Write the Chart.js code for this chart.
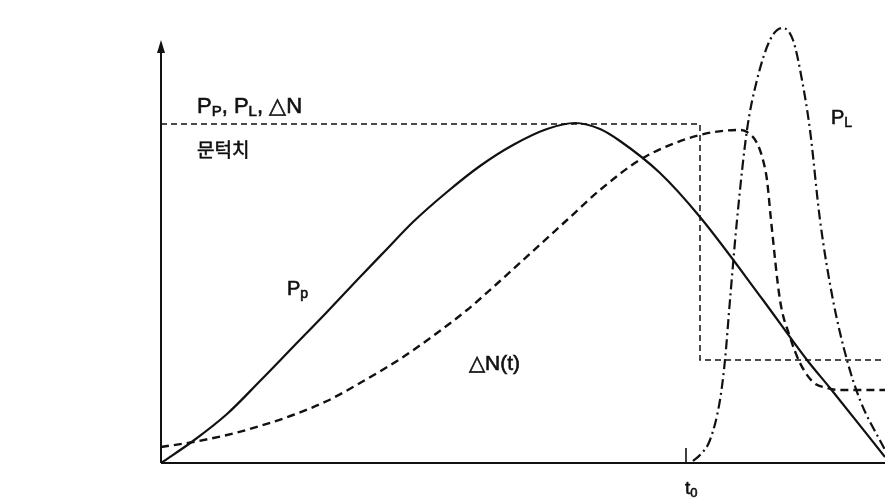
<!DOCTYPE html>
<html>
<head>
<meta charset="utf-8">
<script src="https://cdn.jsdelivr.net/npm/chart.js@4"></script>
<style>
  html, body { margin: 0; padding: 0; background: #fff; }
  #wrap { width: 885px; height: 500px; position: relative; }
</style>
</head>
<body>
<div id="wrap"><canvas id="chart"></canvas></div>
<script>
'use strict';

// time axis (same units as pixels along the time axis), value = height above baseline
const ppTime = [161, 193, 227, 260, 293, 327, 360, 385, 413, 447, 480, 513, 547, 575, 600, 620, 660, 700, 763, 807, 830, 885];
const ppValue = [0, 22, 49, 82, 116, 151, 186, 212, 241, 271, 297, 318, 334, 340, 334, 322, 290, 246, 163, 103, 75, 6];

const dnTime = [161, 193, 227, 260, 293, 327, 360, 400, 433, 467, 500, 533, 567, 600, 643, 700, 740, 747, 757, 763, 767, 771, 780, 790, 800, 813, 827, 840, 885];
const dnValue = [16, 21, 28, 37, 48, 62, 80, 104, 127, 153, 182, 212, 243, 273, 305, 328, 333, 331, 320, 303, 283, 243, 163, 126, 100, 81, 75, 73, 73];

const plTime = [693, 700, 710, 720, 725, 730, 737, 747, 757, 770, 782, 793, 802, 810, 820, 833, 847, 860, 885];
const plValue = [2, 8, 23, 63, 103, 163, 243, 333, 383, 423, 435, 423, 383, 333, 243, 163, 103, 63, 13];

const thresholdTime = [161, 700, 700, 885];
const thresholdValue = [339, 339, 103, 103];

const t0Time = 686;
const axisTop = 421;

function toPoints(xs, ys) {
  return xs.map((x, i) => ({ x: x, y: ys[i] }));
}

function drawRuns(ctx, x, y, size, runs) {
  let cx = x;
  for (const run of runs) {
    const s = run.sub ? Math.round(size * 0.68) : size;
    ctx.font = s + 'px "Liberation Sans", Arial, sans-serif';
    const ty = run.sub ? y + 3 : y;
    ctx.fillText(run.t, cx, ty);
    ctx.strokeText(run.t, cx, ty);
    cx += ctx.measureText(run.t).width;
  }
}

const decorPlugin = {
  id: 'decor',
  afterDraw(chart) {
    const ctx = chart.ctx;
    const xs = chart.scales.x;
    const ys = chart.scales.y;
    const x0 = xs.getPixelForValue(161);
    const y0 = ys.getPixelForValue(0);
    const yTop = ys.getPixelForValue(axisTop);
    ctx.save();
    ctx.strokeStyle = '#111';
    ctx.fillStyle = '#111';
    ctx.lineWidth = 2;
    ctx.setLineDash([]);
    ctx.beginPath();
    ctx.moveTo(x0, y0);
    ctx.lineTo(xs.right, y0);
    ctx.moveTo(x0, y0);
    ctx.lineTo(x0, yTop + 8);
    ctx.stroke();
    ctx.beginPath();
    ctx.moveTo(x0, yTop - 2);
    ctx.lineTo(x0 - 4, yTop + 11);
    ctx.lineTo(x0 + 4, yTop + 11);
    ctx.closePath();
    ctx.fill();

    // t0 marker
    const tx = xs.getPixelForValue(t0Time);
    ctx.lineWidth = 1.6;
    ctx.beginPath();
    ctx.moveTo(tx, y0);
    ctx.lineTo(tx, y0 - 15);
    ctx.stroke();

    ctx.textBaseline = 'alphabetic';
    ctx.lineWidth = 0.6;
    drawRuns(ctx, 197, 113, 22, [{ t: 'P' }, { t: 'P', sub: true }, { t: ', P' }, { t: 'L', sub: true }, { t: ', \u25B3N' }]);
    ctx.font = '19px "Noto Sans CJK KR", sans-serif';
    ctx.fillText('문턱치', 197, 157);
    ctx.strokeText('문턱치', 197, 157);
    drawRuns(ctx, 287, 295, 20, [{ t: 'P' }, { t: 'p', sub: true }]);
    drawRuns(ctx, 469, 370, 21, [{ t: '\u25B3N(t)' }]);
    drawRuns(ctx, 831, 124, 20, [{ t: 'P' }, { t: 'L', sub: true }]);
    drawRuns(ctx, 685, 494, 19, [{ t: 't' }, { t: '0', sub: true }]);
    ctx.restore();
  }
};

const ctx = document.getElementById('chart').getContext('2d');
new Chart(ctx, {
  type: 'line',
  data: {
    datasets: [
      {
        label: 'Pp',
        data: toPoints(ppTime, ppValue),
        borderColor: '#111',
        borderWidth: 2.2,
        cubicInterpolationMode: 'monotone',
        pointRadius: 0,
        clip: 6
      },
      {
        label: 'ΔN(t)',
        data: toPoints(dnTime, dnValue),
        borderColor: '#111',
        borderWidth: 2.4,
        borderDash: [8, 5],
        cubicInterpolationMode: 'monotone',
        pointRadius: 0,
        clip: 6
      },
      {
        label: 'PL',
        data: toPoints(plTime, plValue),
        borderColor: '#111',
        borderWidth: 2.2,
        borderDash: [10, 4, 2, 4],
        cubicInterpolationMode: 'monotone',
        pointRadius: 0,
        clip: 6
      },
      {
        label: '문턱치',
        data: toPoints(thresholdTime, thresholdValue),
        borderColor: '#111',
        borderWidth: 1.5,
        borderDash: [6, 4],
        tension: 0,
        pointRadius: 0,
        clip: 6
      }
    ]
  },
  options: {
    responsive: true,
    maintainAspectRatio: false,
    animation: false,
    layout: { padding: { left: 161, right: 0, top: 20, bottom: 37 } },
    plugins: {
      legend: { display: false },
      tooltip: { enabled: false }
    },
    scales: {
      x: { type: 'linear', min: 161, max: 885, display: false },
      y: { type: 'linear', min: 0, max: 443, display: false }
    }
  },
  plugins: [decorPlugin]
});
</script>
</body>
</html>
